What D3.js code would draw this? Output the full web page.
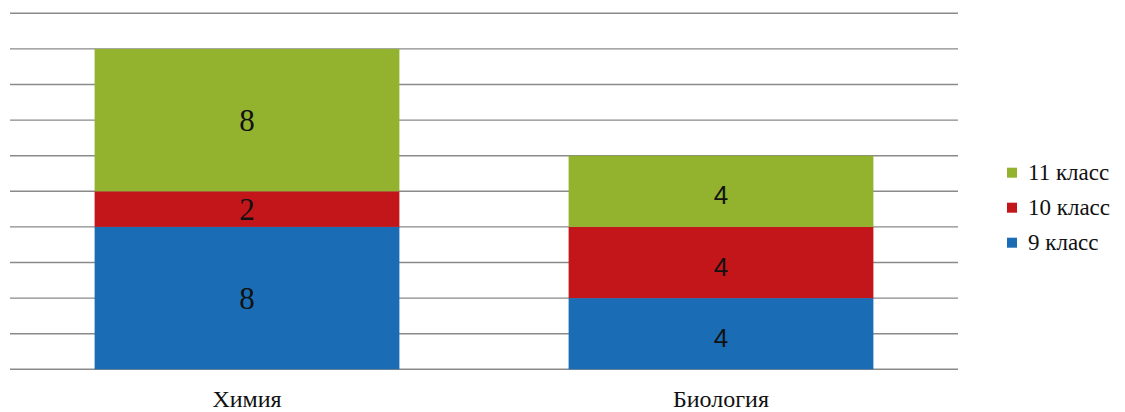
<!DOCTYPE html>
<html><head><meta charset="utf-8">
<script src="https://cdn.jsdelivr.net/npm/d3@7"></script>
<style>body{margin:0;background:#fff;}</style>
</head><body><svg id="c" width="1125" height="412" style="display:block;font-family:'Liberation Serif','Times New Roman',serif"></svg>
<script>
const categories = ["Химия", "Биология"];
const seriesNames = ["9 класс", "10 класс", "11 класс"];
const grade9 = [8, 4];
const grade10 = [2, 4];
const grade11 = [8, 4];
const yTicks = [0, 2, 4, 6, 8, 10, 12, 14, 16, 18, 20];
const colors = ["#1a6db4", "#c2161b", "#93b22e"];

const svg = d3.select("#c");
const mLeft = 10, mRight = 958, mTop = 13.3, mBottom = 369.3;
const x = d3.scaleBand().domain(categories).range([mLeft, mRight]).paddingInner(0.357).paddingOuter(0.1785);
const y = d3.scaleLinear().domain([0, 20]).range([mBottom, mTop]);

// gridlines
svg.append("g").selectAll("line").data(yTicks).join("line")
  .attr("x1", mLeft).attr("x2", mRight)
  .attr("y1", d => y(d)).attr("y2", d => y(d))
  .attr("stroke", "#8a8a8a").attr("stroke-width", 1.4);

const rows = categories.map((c, i) => ({cat: c, "9 класс": grade9[i], "10 класс": grade10[i], "11 класс": grade11[i]}));
const stack = d3.stack().keys(seriesNames)(rows);

const g = svg.append("g");
stack.forEach((layer, li) => {
  g.selectAll(null).data(layer).join("rect")
    .attr("x", d => x(d.data.cat))
    .attr("width", x.bandwidth())
    .attr("y", d => y(d[1]))
    .attr("height", d => y(d[0]) - y(d[1]))
    .attr("fill", colors[li]);
  g.selectAll(null).data(layer).join("text")
    .attr("x", d => x(d.data.cat) + x.bandwidth() / 2)
    .attr("y", d => (y(d[0]) + y(d[1])) / 2)
    .attr("dy", (d, i) => i === 0 ? "0.35em" : "0.5em")
    .attr("text-anchor", "middle")
    .style("font-family", (d, i) => i === 0 ? '"Liberation Serif"' : '"Liberation Sans"')
    .style("font-size", (d, i) => i === 0 ? "31px" : "26px")
    .attr("fill", "#111")
    .text(d => d[1] - d[0]);
});

// category labels
const catG = svg.append("g").style("font-family", '"Liberation Serif"');
catG.selectAll("text").data(categories).join("text")
  .attr("x", d => x(d) + x.bandwidth() / 2)
  .attr("y", 407)
  .attr("text-anchor", "middle")
  .style("font-family", (d, i) => '"Liberation Serif"')
  .style("font-size", "24px")
  .attr("fill", "#111")
  .text(d => d);

// legend
const legendItems = seriesNames.map((n, i) => ({name: n, color: colors[i]})).reverse();
const lg = svg.append("g").attr("transform", "translate(1007,172.7)").style("font-family", '"Liberation Serif"');
const lgi = lg.selectAll("g").data(legendItems).join("g")
  .attr("transform", (d, i) => `translate(0,${i * 35})`);
lgi.append("rect").attr("x", 0).attr("y", -5).attr("width", 10).attr("height", 10).attr("fill", d => d.color);
lgi.append("text").attr("x", 21).attr("y", 7.5)
  .style("font-family", (d, i) => '"Liberation Serif"')
  .style("font-size", "23px").attr("fill", "#111").text(d => d.name);
</script></body></html>
